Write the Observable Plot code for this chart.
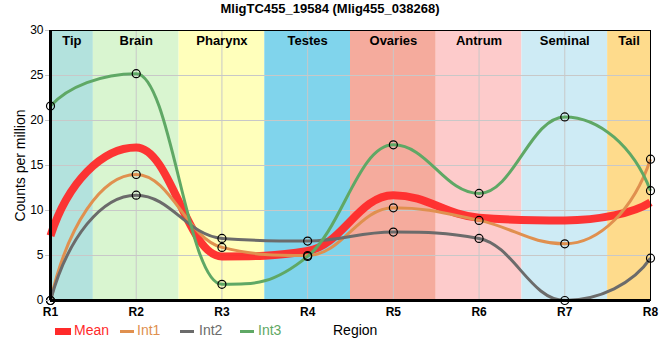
<!DOCTYPE html>
<html><head><meta charset="utf-8">
<script src="https://cdn.jsdelivr.net/npm/d3@7"></script>
<script src="https://cdn.jsdelivr.net/npm/@observablehq/plot@0.6"></script>
<style>
body{margin:0;background:#fff;font-family:"Liberation Sans",Arial,sans-serif;}
#wrap{position:relative;width:660px;height:360px;}
#title{position:absolute;left:0;top:1px;width:660px;text-align:center;font-weight:bold;font-size:13px;}
.lg{position:absolute;font-size:14px;top:322px;line-height:17px;}
.sw{position:absolute;}
#xlab{position:absolute;left:333px;top:322px;font-size:14px;line-height:17px;}
</style></head>
<body><div id="wrap"><div id="title"></div><div id="plot"></div><div id="legend"></div><div id="xlab">Region</div></div>
<script>
const titleText = "MligTC455_19584 (Mlig455_038268)";
const regions = ["R1","R2","R3","R4","R5","R6","R7","R8"];
const int1 = [0, 14.0, 5.9, 5.0, 10.3, 8.9, 6.3, 15.7];
const int2 = [0, 11.7, 6.9, 6.6, 7.6, 6.9, 0, 4.7];
const int3 = [21.6, 25.2, 1.8, 4.9, 17.3, 11.9, 20.4, 12.2];
const mean = [7.2, 17.0, 4.9, 5.5, 11.7, 9.2, 8.9, 10.9];
const bandNames = ["Tip","Brain","Pharynx","Testes","Ovaries","Antrum","Seminal","Tail"];
const bandStart = [1, 1.5, 2.5, 3.5, 4.5, 5.5, 6.5, 7.5];
const bandEnd = [1.5, 2.5, 3.5, 4.5, 5.5, 6.5, 7.5, 8];
const bandColors = ["#b3e2dd","#d9f5d0","#ffffbb","#80d4ec","#f5ab9d","#fdcbcb","#ceebf5","#fedb8c"];
const seriesNames = ["Mean","Int1","Int2","Int3"];
const seriesColors = ["#ff2a2a","#e0904f","#6b6b6b","#5fa865"];

// smoothing spline curve (control points at 0.4 of segment, flattened at extrema)
function smoothSpline(context){
  let pts;
  return {
    areaStart(){}, areaEnd(){},
    lineStart(){ pts = []; },
    point(x,y){ pts.push([+x,+y]); },
    lineEnd(){
      const n = pts.length; if (!n) return;
      const sm = 1.5, den = sm + 1;
      const L = [], R = [];
      for (let i = 0; i < n; i++) {
        const [px,py] = pts[i];
        if (i > 0 && i < n-1) {
          const [lx,ly] = pts[i-1], [nx,ny] = pts[i+1];
          let lcx = (sm*px+lx)/den, lcy = (sm*py+ly)/den, rcx = (sm*px+nx)/den, rcy = (sm*py+ny)/den;
          let corr = 0;
          if (rcx !== lcx) corr = ((rcy-lcy)*(rcx-px))/(rcx-lcx) + py - rcy;
          lcy += corr; rcy += corr;
          if (lcy > ly && lcy > py) { lcy = Math.max(ly,py); rcy = 2*py - lcy; }
          else if (lcy < ly && lcy < py) { lcy = Math.min(ly,py); rcy = 2*py - lcy; }
          if (rcy > ny && rcy > py) { rcy = Math.max(ny,py); lcy = 2*py - rcy; }
          else if (rcy < ny && rcy < py) { rcy = Math.min(ny,py); lcy = 2*py - rcy; }
          L[i] = [lcx,lcy]; R[i] = [rcx,rcy];
        }
      }
      if (n > 2) {
        const [x0,y0] = pts[0], [x1,y1] = pts[1];
        R[0] = [x0 + 0.2*(x1-x0), y0 + 0.6*(y1-y0)];
        const [xa,ya] = pts[n-2], [xb,yb] = pts[n-1];
        L[n-1] = [xb - 0.2*(xb-xa), yb + 0.6*(ya-yb)];
      } else { R[0] = pts[0]; L[n-1] = pts[n-1]; }
      context.moveTo(pts[0][0], pts[0][1]);
      for (let i = 1; i < n; i++) context.bezierCurveTo(R[i-1][0],R[i-1][1],L[i][0],L[i][1],pts[i][0],pts[i][1]);
    }
  };
}

document.getElementById("title").textContent = titleText;
const bands = bandNames.map((n,i)=>({name:n,x1:bandStart[i],x2:bandEnd[i],c:bandColors[i]}));
const series = {Int1:int1, Int2:int2, Int3:int3};
const pts = [];
for (const k of ["Int1","Int2","Int3"]) series[k].forEach((v,i)=>pts.push({s:k,x:i+1,y:v}));
const meanPts = mean.map((v,i)=>({x:i+1,y:v}));
const col = Object.fromEntries(seriesNames.map((n,i)=>[n,seriesColors[i]]));

const chart = Plot.plot({
  width:660, height:360,
  marginLeft:50, marginRight:10, marginTop:30, marginBottom:60,
  style:{fontFamily:"Liberation Sans, Arial, sans-serif", fontSize:"12px", color:"#000"},
  x:{domain:[1,8], label:null},
  y:{domain:[0,30], label:null},
  marks:[
    Plot.rect(bands,{x1:"x1",x2:"x2",y1:0,y2:30,fill:"c"}),
    Plot.gridX([1,2,3,4,5,6,7,8],{stroke:"#c8c8c8",strokeOpacity:1}),
    Plot.gridY([5,10,15,20,25],{stroke:"#c8c8c8",strokeOpacity:1}),
    Plot.text(bands,{x:d=>(d.x1+d.x2)/2, text:"name", frameAnchor:"top", dy:5, fontWeight:"bold", fontSize:13, fill:"#000"}),
    Plot.line(meanPts,{x:"x",y:"y",stroke:col.Mean,strokeWidth:8,strokeOpacity:0.95,strokeLinecap:"butt",curve:smoothSpline}),
    Plot.line(pts,{x:"x",y:"y",z:"s",stroke:d=>col[d.s],strokeWidth:3,strokeLinecap:"butt",curve:smoothSpline}),
    Plot.dot(pts,{x:"x",y:"y",r:4,stroke:"#000",strokeWidth:1.2,fill:"none"}),
    Plot.frame({stroke:"#000",strokeWidth:1}),
    Plot.axisY({ticks:[0,5,10,15,20,25,30], tickSize:5, tickPadding:2, stroke:"#c8c8c8", label:null}),
    Plot.axisX({ticks:[1,2,3,4,5,6,7,8], tickFormat:d=>regions[d-1], tickSize:0, tickPadding:7, label:null, fontWeight:"bold", fontSize:12}),
    Plot.ruleX([1],{stroke:"#000",strokeWidth:3}),
    Plot.ruleY([0],{stroke:"#000",strokeWidth:3}),
    Plot.text(["Counts per million"],{frameAnchor:"left", textAnchor:"middle", dx:-30, rotate:-90, fontSize:14, fill:"#000"})
  ]
});
chart.style.position="absolute"; chart.style.left="0"; chart.style.top="0";
document.getElementById("plot").appendChild(chart);

const lg = document.getElementById("legend");
const swLeft = [55, 120, 180, 240], txtLeft = [74, 137, 199, 258];
seriesNames.forEach((n,i)=>{
  const sw=document.createElement("span"); sw.className="sw";
  const h = i===0 ? 7 : 3;
  sw.style.left = swLeft[i]+"px"; sw.style.top = (331 - h/2)+"px";
  sw.style.width = (i===0?16:14)+"px"; sw.style.height = h+"px"; sw.style.background=seriesColors[i];
  const t=document.createElement("span"); t.className="lg"; t.textContent=n; t.style.color=seriesColors[i];
  t.style.left = txtLeft[i]+"px";
  lg.appendChild(sw); lg.appendChild(t);
});
</script></body></html>
